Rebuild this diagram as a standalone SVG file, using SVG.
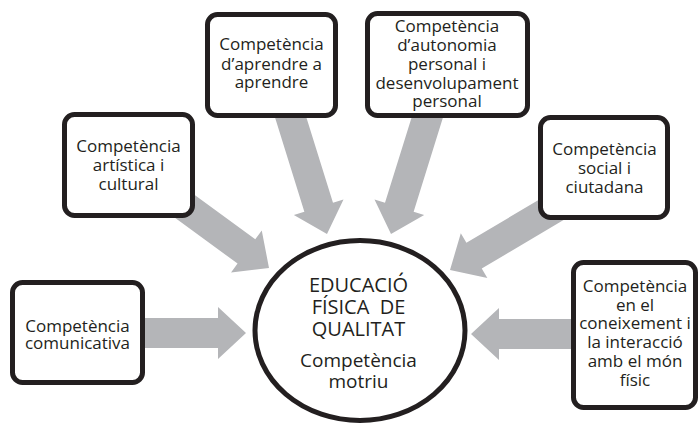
<svg xmlns="http://www.w3.org/2000/svg" width="698" height="424" viewBox="0 0 698 424">
<style>
.bg{fill:#ffffff}
.arrow{fill:#b4b5b8;stroke:none}
.box{fill:#ffffff;stroke:#231f20;stroke-width:5}
.hub{fill:#ffffff;stroke:#231f20;stroke-width:5}
.t{font-family:"Open Sans","Noto Sans","DejaVu Sans",sans-serif;font-size:17px;fill:#231f20;text-anchor:middle}
.c1{font-family:"Open Sans","Noto Sans","DejaVu Sans",sans-serif;font-size:20px;fill:#231f20;text-anchor:middle;white-space:pre}
.c2{font-family:"Open Sans","Noto Sans","DejaVu Sans",sans-serif;font-size:19px;fill:#231f20;text-anchor:middle}
</style>
<rect class="bg" x="0" y="0" width="698" height="424"/>
<g id="connectors">
  <polygon class="arrow" transform="translate(246,333)" points="-106,-15 -28,-15 -28,-26 0,0 -28,26 -28,15 -106,15"/>
  <polygon class="arrow" transform="translate(269,268) rotate(36.2)" points="-120,-15 -28,-15 -28,-26 0,0 -28,26 -28,15 -120,15"/>
  <polygon class="arrow" transform="translate(327,234) rotate(72.7)" points="-130,-15 -28,-15 -28,-26 0,0 -28,26 -28,15 -130,15"/>
  <polygon class="arrow" transform="translate(391,234) rotate(107.3)" points="-130,-15 -28,-15 -28,-26 0,0 -28,26 -28,15 -130,15"/>
  <polygon class="arrow" transform="translate(450,270) rotate(149.3)" points="-130,-15 -28,-15 -28,-26 0,0 -28,26 -28,15 -130,15"/>
  <polygon class="arrow" transform="translate(471,334) rotate(180)" points="-109,-15 -28,-15 -28,-26 0,0 -28,26 -28,15 -109,15"/>
</g>
<g id="hub">
  <ellipse class="hub" cx="360" cy="330.5" rx="105" ry="90"/>
  <text class="c1" x="358.5" y="292">EDUCACIÓ</text>
  <text class="c1" x="358.5" y="314" xml:space="preserve">FÍSICA  DE</text>
  <text class="c1" x="358.5" y="336">QUALITAT</text>
  <text class="c2" x="358.5" y="367">Competència</text>
  <text class="c2" x="358.5" y="388">motriu</text>
</g>
<g id="comunicativa">
  <rect class="box" x="12.5" y="282.5" width="130" height="100" rx="10"/>
  <text class="t" x="77.5" y="332">Competència</text>
  <text class="t" x="77.5" y="349">comunicativa</text>
</g>
<g id="artistica">
  <rect class="box" x="64.5" y="114.5" width="128" height="101" rx="10"/>
  <text class="t" x="128.5" y="152">Competència</text>
  <text class="t" x="128.5" y="171">artística i</text>
  <text class="t" x="128.5" y="190">cultural</text>
</g>
<g id="aprendre">
  <rect class="box" x="207.5" y="14.5" width="128" height="101" rx="10"/>
  <text class="t" x="271.5" y="50">Competència</text>
  <text class="t" x="271.5" y="70">d’aprendre a</text>
  <text class="t" x="271.5" y="88">aprendre</text>
</g>
<g id="autonomia">
  <rect class="box" x="367.5" y="13.5" width="160" height="102" rx="10"/>
  <text class="t" x="447" y="32">Competència</text>
  <text class="t" x="447" y="51">d’autonomia</text>
  <text class="t" x="447" y="70">personal i</text>
  <text class="t" x="447" y="89">desenvolupament</text>
  <text class="t" x="447" y="107">personal</text>
</g>
<g id="social">
  <rect class="box" x="540.5" y="117.5" width="127" height="100" rx="10"/>
  <text class="t" x="604.5" y="155">Competència</text>
  <text class="t" x="604.5" y="174">social i</text>
  <text class="t" x="604.5" y="193">ciutadana</text>
</g>
<g id="coneixement">
  <rect class="box" x="573.5" y="262.5" width="122" height="145" rx="10"/>
  <text class="t" x="635" y="292">Competència</text>
  <text class="t" x="635" y="311">en el</text>
  <text class="t" x="635" y="329">coneixement i</text>
  <text class="t" x="635" y="348">la interacció</text>
  <text class="t" x="635" y="367">amb el món</text>
  <text class="t" x="635" y="386">físic</text>
</g>
</svg>
